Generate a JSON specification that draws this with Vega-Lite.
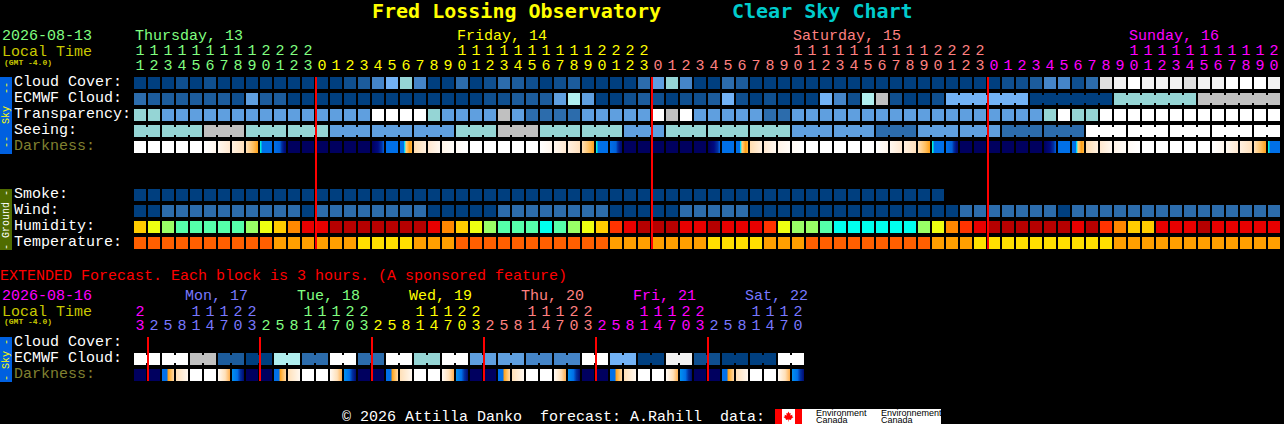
{"$schema":"https://vega.github.io/schema/vega-lite/v6.json","width":1284,"height":424,"autosize":"none","padding":0,"background":"#000000",
"config":{"view":{"stroke":null},"text":{"font":"Liberation Mono","fontSize":15}},
"datasets":{
"cells":[
{"row":"cloud","block":0,"tone":"a"},{"row":"cloud","block":1,"tone":"a"},{"row":"cloud","block":2,"tone":"a"},{"row":"cloud","block":3,"tone":"b"},{"row":"cloud","block":4,"tone":"a"},{"row":"cloud","block":5,"tone":"b"},{"row":"cloud","block":6,"tone":"a"},{"row":"cloud","block":7,"tone":"a"},{"row":"cloud","block":8,"tone":"a"},{"row":"cloud","block":9,"tone":"a"},{"row":"cloud","block":10,"tone":"a"},{"row":"cloud","block":11,"tone":"a"},{"row":"cloud","block":12,"tone":"a"},{"row":"cloud","block":13,"tone":"a"},{"row":"cloud","block":14,"tone":"a"},{"row":"cloud","block":15,"tone":"b"},{"row":"cloud","block":16,"tone":"c"},{"row":"cloud","block":17,"tone":"f"},{"row":"cloud","block":18,"tone":"h"},{"row":"cloud","block":19,"tone":"t"},{"row":"cloud","block":20,"tone":"f"},{"row":"cloud","block":21,"tone":"a"},{"row":"cloud","block":22,"tone":"a"},{"row":"cloud","block":23,"tone":"e"},{"row":"cloud","block":24,"tone":"a"},{"row":"cloud","block":25,"tone":"b"},{"row":"cloud","block":26,"tone":"e"},{"row":"cloud","block":27,"tone":"c"},{"row":"cloud","block":28,"tone":"b"},{"row":"cloud","block":29,"tone":"a"},{"row":"cloud","block":30,"tone":"b"},{"row":"cloud","block":31,"tone":"c"},{"row":"cloud","block":32,"tone":"a"},{"row":"cloud","block":33,"tone":"a"},{"row":"cloud","block":34,"tone":"a"},{"row":"cloud","block":35,"tone":"a"},{"row":"cloud","block":36,"tone":"e"},{"row":"cloud","block":37,"tone":"g"},{"row":"cloud","block":38,"tone":"t"},{"row":"cloud","block":39,"tone":"f"},{"row":"cloud","block":40,"tone":"a"},{"row":"cloud","block":41,"tone":"a"},{"row":"cloud","block":42,"tone":"e"},{"row":"cloud","block":43,"tone":"c"},{"row":"cloud","block":44,"tone":"a"},{"row":"cloud","block":45,"tone":"a"},{"row":"cloud","block":46,"tone":"a"},{"row":"cloud","block":47,"tone":"a"},{"row":"cloud","block":48,"tone":"a"},{"row":"cloud","block":49,"tone":"a"},{"row":"cloud","block":50,"tone":"a"},{"row":"cloud","block":51,"tone":"a"},{"row":"cloud","block":52,"tone":"a"},{"row":"cloud","block":53,"tone":"a"},{"row":"cloud","block":54,"tone":"a"},{"row":"cloud","block":55,"tone":"a"},{"row":"cloud","block":56,"tone":"a"},{"row":"cloud","block":57,"tone":"a"},{"row":"cloud","block":58,"tone":"a"},{"row":"cloud","block":59,"tone":"a"},{"row":"cloud","block":60,"tone":"a"},{"row":"cloud","block":61,"tone":"a"},{"row":"cloud","block":62,"tone":"b"},{"row":"cloud","block":63,"tone":"b"},{"row":"cloud","block":64,"tone":"c"},{"row":"cloud","block":65,"tone":"f"},{"row":"cloud","block":66,"tone":"f"},{"row":"cloud","block":67,"tone":"b"},{"row":"cloud","block":68,"tone":"e"},{"row":"cloud","block":69,"tone":"i"},{"row":"cloud","block":70,"tone":"j"},{"row":"cloud","block":71,"tone":"w"},{"row":"cloud","block":72,"tone":"j"},{"row":"cloud","block":73,"tone":"j"},{"row":"cloud","block":74,"tone":"j"},{"row":"cloud","block":75,"tone":"i"},{"row":"cloud","block":76,"tone":"j"},{"row":"cloud","block":77,"tone":"j"},{"row":"cloud","block":78,"tone":"w"},{"row":"cloud","block":79,"tone":"w"},{"row":"cloud","block":80,"tone":"w"},{"row":"cloud","block":81,"tone":"j"},
{"row":"ecmwf","block":0,"tone":"e"},{"row":"ecmwf","block":1,"tone":"c"},{"row":"ecmwf","block":2,"tone":"c"},{"row":"ecmwf","block":3,"tone":"c"},{"row":"ecmwf","block":4,"tone":"c"},{"row":"ecmwf","block":5,"tone":"c"},{"row":"ecmwf","block":6,"tone":"c"},{"row":"ecmwf","block":7,"tone":"b"},{"row":"ecmwf","block":8,"tone":"g"},{"row":"ecmwf","block":9,"tone":"c"},{"row":"ecmwf","block":10,"tone":"c"},{"row":"ecmwf","block":11,"tone":"a"},{"row":"ecmwf","block":12,"tone":"a"},{"row":"ecmwf","block":13,"tone":"a"},{"row":"ecmwf","block":14,"tone":"a"},{"row":"ecmwf","block":15,"tone":"a"},{"row":"ecmwf","block":16,"tone":"a"},{"row":"ecmwf","block":17,"tone":"a"},{"row":"ecmwf","block":18,"tone":"a"},{"row":"ecmwf","block":19,"tone":"a"},{"row":"ecmwf","block":20,"tone":"a"},{"row":"ecmwf","block":21,"tone":"a"},{"row":"ecmwf","block":22,"tone":"a"},{"row":"ecmwf","block":23,"tone":"a"},{"row":"ecmwf","block":24,"tone":"a"},{"row":"ecmwf","block":25,"tone":"b"},{"row":"ecmwf","block":26,"tone":"b"},{"row":"ecmwf","block":27,"tone":"c"},{"row":"ecmwf","block":28,"tone":"c"},{"row":"ecmwf","block":29,"tone":"c"},{"row":"ecmwf","block":30,"tone":"g"},{"row":"ecmwf","block":31,"tone":"u"},{"row":"ecmwf","block":32,"tone":"g"},{"row":"ecmwf","block":33,"tone":"a"},{"row":"ecmwf","block":34,"tone":"a"},{"row":"ecmwf","block":35,"tone":"b"},{"row":"ecmwf","block":36,"tone":"c"},{"row":"ecmwf","block":37,"tone":"b"},{"row":"ecmwf","block":38,"tone":"a"},{"row":"ecmwf","block":39,"tone":"b"},{"row":"ecmwf","block":40,"tone":"b"},{"row":"ecmwf","block":41,"tone":"c"},{"row":"ecmwf","block":42,"tone":"h"},{"row":"ecmwf","block":43,"tone":"b"},{"row":"ecmwf","block":44,"tone":"a"},{"row":"ecmwf","block":45,"tone":"b"},{"row":"ecmwf","block":46,"tone":"a"},{"row":"ecmwf","block":47,"tone":"a"},{"row":"ecmwf","block":48,"tone":"a"},{"row":"ecmwf","block":49,"tone":"h"},{"row":"ecmwf","block":50,"tone":"f"},{"row":"ecmwf","block":51,"tone":"b"},{"row":"ecmwf","block":52,"tone":"u"},{"row":"ecmwf","block":53,"tone":"s"},{"row":"ecmwf","block":54,"tone":"b"},{"row":"ecmwf","block":55,"tone":"a"},{"row":"ecmwf","block":56,"tone":"a"},{"row":"ecmwf","block":57,"tone":"b"},{"row":"ecmwf","block":58,"tone":"h","joined":true},{"row":"ecmwf","block":59,"tone":"h","joined":true},{"row":"ecmwf","block":60,"tone":"h","joined":true},{"row":"ecmwf","block":61,"tone":"h","joined":true},{"row":"ecmwf","block":62,"tone":"h","joined":true},{"row":"ecmwf","block":63,"tone":"h"},{"row":"ecmwf","block":64,"tone":"a","joined":true},{"row":"ecmwf","block":65,"tone":"a","joined":true},{"row":"ecmwf","block":66,"tone":"a","joined":true},{"row":"ecmwf","block":67,"tone":"a","joined":true},{"row":"ecmwf","block":68,"tone":"a","joined":true},{"row":"ecmwf","block":69,"tone":"a"},{"row":"ecmwf","block":70,"tone":"t","joined":true},{"row":"ecmwf","block":71,"tone":"t","joined":true},{"row":"ecmwf","block":72,"tone":"t","joined":true},{"row":"ecmwf","block":73,"tone":"t","joined":true},{"row":"ecmwf","block":74,"tone":"t","joined":true},{"row":"ecmwf","block":75,"tone":"t"},{"row":"ecmwf","block":76,"tone":"s","joined":true},{"row":"ecmwf","block":77,"tone":"s","joined":true},{"row":"ecmwf","block":78,"tone":"s","joined":true},{"row":"ecmwf","block":79,"tone":"s","joined":true},{"row":"ecmwf","block":80,"tone":"s","joined":true},{"row":"ecmwf","block":81,"tone":"s"},
{"row":"transp","block":0,"tone":"t"},{"row":"transp","block":1,"tone":"t"},{"row":"transp","block":2,"tone":"g"},{"row":"transp","block":3,"tone":"g"},{"row":"transp","block":4,"tone":"g"},{"row":"transp","block":5,"tone":"g"},{"row":"transp","block":6,"tone":"g"},{"row":"transp","block":7,"tone":"g"},{"row":"transp","block":8,"tone":"g"},{"row":"transp","block":9,"tone":"g"},{"row":"transp","block":10,"tone":"g"},{"row":"transp","block":11,"tone":"g"},{"row":"transp","block":12,"tone":"g"},{"row":"transp","block":13,"tone":"g"},{"row":"transp","block":14,"tone":"g"},{"row":"transp","block":15,"tone":"g"},{"row":"transp","block":16,"tone":"g"},{"row":"transp","block":17,"tone":"w"},{"row":"transp","block":18,"tone":"w"},{"row":"transp","block":19,"tone":"w"},{"row":"transp","block":20,"tone":"w"},{"row":"transp","block":21,"tone":"t"},{"row":"transp","block":22,"tone":"g"},{"row":"transp","block":23,"tone":"g"},{"row":"transp","block":24,"tone":"g"},{"row":"transp","block":25,"tone":"g"},{"row":"transp","block":26,"tone":"s"},{"row":"transp","block":27,"tone":"g"},{"row":"transp","block":28,"tone":"e"},{"row":"transp","block":29,"tone":"e"},{"row":"transp","block":30,"tone":"e"},{"row":"transp","block":31,"tone":"e"},{"row":"transp","block":32,"tone":"g"},{"row":"transp","block":33,"tone":"g"},{"row":"transp","block":34,"tone":"g"},{"row":"transp","block":35,"tone":"g"},{"row":"transp","block":36,"tone":"g"},{"row":"transp","block":37,"tone":"w"},{"row":"transp","block":38,"tone":"s"},{"row":"transp","block":39,"tone":"w"},{"row":"transp","block":40,"tone":"g"},{"row":"transp","block":41,"tone":"g"},{"row":"transp","block":42,"tone":"g"},{"row":"transp","block":43,"tone":"g"},{"row":"transp","block":44,"tone":"g"},{"row":"transp","block":45,"tone":"e"},{"row":"transp","block":46,"tone":"e"},{"row":"transp","block":47,"tone":"g"},{"row":"transp","block":48,"tone":"g"},{"row":"transp","block":49,"tone":"g"},{"row":"transp","block":50,"tone":"g"},{"row":"transp","block":51,"tone":"g"},{"row":"transp","block":52,"tone":"g"},{"row":"transp","block":53,"tone":"g"},{"row":"transp","block":54,"tone":"g"},{"row":"transp","block":55,"tone":"g"},{"row":"transp","block":56,"tone":"g"},{"row":"transp","block":57,"tone":"g"},{"row":"transp","block":58,"tone":"g"},{"row":"transp","block":59,"tone":"g"},{"row":"transp","block":60,"tone":"g"},{"row":"transp","block":61,"tone":"g"},{"row":"transp","block":62,"tone":"g"},{"row":"transp","block":63,"tone":"g"},{"row":"transp","block":64,"tone":"g"},{"row":"transp","block":65,"tone":"t"},{"row":"transp","block":66,"tone":"w"},{"row":"transp","block":67,"tone":"t"},{"row":"transp","block":68,"tone":"t"},{"row":"transp","block":69,"tone":"w"},{"row":"transp","block":70,"tone":"w"},{"row":"transp","block":71,"tone":"w"},{"row":"transp","block":72,"tone":"w"},{"row":"transp","block":73,"tone":"w"},{"row":"transp","block":74,"tone":"w"},{"row":"transp","block":75,"tone":"w"},{"row":"transp","block":76,"tone":"w"},{"row":"transp","block":77,"tone":"w"},{"row":"transp","block":78,"tone":"w"},{"row":"transp","block":79,"tone":"w"},{"row":"transp","block":80,"tone":"w"},{"row":"transp","block":81,"tone":"w"},
{"row":"seeing","block":0,"tone":"t","joined":true},{"row":"seeing","block":1,"tone":"t"},{"row":"seeing","block":2,"tone":"t","joined":true},{"row":"seeing","block":3,"tone":"t","joined":true},{"row":"seeing","block":4,"tone":"t"},{"row":"seeing","block":5,"tone":"s","joined":true},{"row":"seeing","block":6,"tone":"s","joined":true},{"row":"seeing","block":7,"tone":"s"},{"row":"seeing","block":8,"tone":"t","joined":true},{"row":"seeing","block":9,"tone":"t","joined":true},{"row":"seeing","block":10,"tone":"t"},{"row":"seeing","block":11,"tone":"t","joined":true},{"row":"seeing","block":12,"tone":"t","joined":true},{"row":"seeing","block":13,"tone":"t"},{"row":"seeing","block":14,"tone":"g","joined":true},{"row":"seeing","block":15,"tone":"g","joined":true},{"row":"seeing","block":16,"tone":"g"},{"row":"seeing","block":17,"tone":"g","joined":true},{"row":"seeing","block":18,"tone":"g","joined":true},{"row":"seeing","block":19,"tone":"g"},{"row":"seeing","block":20,"tone":"g","joined":true},{"row":"seeing","block":21,"tone":"g","joined":true},{"row":"seeing","block":22,"tone":"g"},{"row":"seeing","block":23,"tone":"t","joined":true},{"row":"seeing","block":24,"tone":"t","joined":true},{"row":"seeing","block":25,"tone":"t"},{"row":"seeing","block":26,"tone":"s","joined":true},{"row":"seeing","block":27,"tone":"s","joined":true},{"row":"seeing","block":28,"tone":"s"},{"row":"seeing","block":29,"tone":"t","joined":true},{"row":"seeing","block":30,"tone":"t","joined":true},{"row":"seeing","block":31,"tone":"t"},{"row":"seeing","block":32,"tone":"t","joined":true},{"row":"seeing","block":33,"tone":"t","joined":true},{"row":"seeing","block":34,"tone":"t"},{"row":"seeing","block":35,"tone":"g","joined":true},{"row":"seeing","block":36,"tone":"g","joined":true},{"row":"seeing","block":37,"tone":"g"},{"row":"seeing","block":38,"tone":"t","joined":true},{"row":"seeing","block":39,"tone":"t","joined":true},{"row":"seeing","block":40,"tone":"t"},{"row":"seeing","block":41,"tone":"t","joined":true},{"row":"seeing","block":42,"tone":"t","joined":true},{"row":"seeing","block":43,"tone":"t"},{"row":"seeing","block":44,"tone":"t","joined":true},{"row":"seeing","block":45,"tone":"t","joined":true},{"row":"seeing","block":46,"tone":"t"},{"row":"seeing","block":47,"tone":"g","joined":true},{"row":"seeing","block":48,"tone":"g","joined":true},{"row":"seeing","block":49,"tone":"g"},{"row":"seeing","block":50,"tone":"g","joined":true},{"row":"seeing","block":51,"tone":"g","joined":true},{"row":"seeing","block":52,"tone":"g"},{"row":"seeing","block":53,"tone":"e","joined":true},{"row":"seeing","block":54,"tone":"e","joined":true},{"row":"seeing","block":55,"tone":"e"},{"row":"seeing","block":56,"tone":"g","joined":true},{"row":"seeing","block":57,"tone":"g","joined":true},{"row":"seeing","block":58,"tone":"g"},{"row":"seeing","block":59,"tone":"g","joined":true},{"row":"seeing","block":60,"tone":"g","joined":true},{"row":"seeing","block":61,"tone":"g"},{"row":"seeing","block":62,"tone":"e","joined":true},{"row":"seeing","block":63,"tone":"e","joined":true},{"row":"seeing","block":64,"tone":"e"},{"row":"seeing","block":65,"tone":"e","joined":true},{"row":"seeing","block":66,"tone":"e","joined":true},{"row":"seeing","block":67,"tone":"e"},{"row":"seeing","block":68,"tone":"w","joined":true},{"row":"seeing","block":69,"tone":"w","joined":true},{"row":"seeing","block":70,"tone":"w"},{"row":"seeing","block":71,"tone":"w","joined":true},{"row":"seeing","block":72,"tone":"w","joined":true},{"row":"seeing","block":73,"tone":"w"},{"row":"seeing","block":74,"tone":"w","joined":true},{"row":"seeing","block":75,"tone":"w","joined":true},{"row":"seeing","block":76,"tone":"w"},{"row":"seeing","block":77,"tone":"w","joined":true},{"row":"seeing","block":78,"tone":"w","joined":true},{"row":"seeing","block":79,"tone":"w"},{"row":"seeing","block":80,"tone":"w","joined":true},{"row":"seeing","block":81,"tone":"w"},
{"row":"dark","block":0,"tone":"w"},{"row":"dark","block":1,"tone":"w"},{"row":"dark","block":2,"tone":"w"},{"row":"dark","block":3,"tone":"w"},{"row":"dark","block":4,"tone":"w"},{"row":"dark","block":5,"tone":"pm1"},{"row":"dark","block":6,"tone":"pm2"},{"row":"dark","block":7,"tone":"pm3"},{"row":"dark","block":8,"tone":"dusk"},{"row":"dark","block":9,"tone":"tw1"},{"row":"dark","block":10,"tone":"tw2"},{"row":"dark","block":11,"tone":"night"},{"row":"dark","block":12,"tone":"night"},{"row":"dark","block":13,"tone":"night"},{"row":"dark","block":14,"tone":"night"},{"row":"dark","block":15,"tone":"night"},{"row":"dark","block":16,"tone":"night"},{"row":"dark","block":17,"tone":"tw3"},{"row":"dark","block":18,"tone":"blue"},{"row":"dark","block":19,"tone":"dawn"},{"row":"dark","block":20,"tone":"am1"},{"row":"dark","block":21,"tone":"am2"},{"row":"dark","block":22,"tone":"am3"},{"row":"dark","block":23,"tone":"am4"},{"row":"dark","block":24,"tone":"w"},{"row":"dark","block":25,"tone":"w"},{"row":"dark","block":26,"tone":"w"},{"row":"dark","block":27,"tone":"w"},{"row":"dark","block":28,"tone":"w"},{"row":"dark","block":29,"tone":"pm1"},{"row":"dark","block":30,"tone":"pm2"},{"row":"dark","block":31,"tone":"pm3"},{"row":"dark","block":32,"tone":"dusk"},{"row":"dark","block":33,"tone":"tw1"},{"row":"dark","block":34,"tone":"tw2"},{"row":"dark","block":35,"tone":"night"},{"row":"dark","block":36,"tone":"night"},{"row":"dark","block":37,"tone":"night"},{"row":"dark","block":38,"tone":"night"},{"row":"dark","block":39,"tone":"night"},{"row":"dark","block":40,"tone":"night"},{"row":"dark","block":41,"tone":"tw3"},{"row":"dark","block":42,"tone":"blue"},{"row":"dark","block":43,"tone":"dawn"},{"row":"dark","block":44,"tone":"am1"},{"row":"dark","block":45,"tone":"am2"},{"row":"dark","block":46,"tone":"am3"},{"row":"dark","block":47,"tone":"am4"},{"row":"dark","block":48,"tone":"w"},{"row":"dark","block":49,"tone":"w"},{"row":"dark","block":50,"tone":"w"},{"row":"dark","block":51,"tone":"w"},{"row":"dark","block":52,"tone":"w"},{"row":"dark","block":53,"tone":"pm1"},{"row":"dark","block":54,"tone":"pm2"},{"row":"dark","block":55,"tone":"pm3"},{"row":"dark","block":56,"tone":"dusk"},{"row":"dark","block":57,"tone":"tw1"},{"row":"dark","block":58,"tone":"tw2"},{"row":"dark","block":59,"tone":"night"},{"row":"dark","block":60,"tone":"night"},{"row":"dark","block":61,"tone":"night"},{"row":"dark","block":62,"tone":"night"},{"row":"dark","block":63,"tone":"night"},{"row":"dark","block":64,"tone":"night"},{"row":"dark","block":65,"tone":"tw3"},{"row":"dark","block":66,"tone":"blue"},{"row":"dark","block":67,"tone":"dawn"},{"row":"dark","block":68,"tone":"am1"},{"row":"dark","block":69,"tone":"am2"},{"row":"dark","block":70,"tone":"am3"},{"row":"dark","block":71,"tone":"am4"},{"row":"dark","block":72,"tone":"w"},{"row":"dark","block":73,"tone":"w"},{"row":"dark","block":74,"tone":"w"},{"row":"dark","block":75,"tone":"w"},{"row":"dark","block":76,"tone":"w"},{"row":"dark","block":77,"tone":"pm1"},{"row":"dark","block":78,"tone":"pm2"},{"row":"dark","block":79,"tone":"pm3"},{"row":"dark","block":80,"tone":"dusk"},{"row":"dark","block":81,"tone":"tw1"},
{"row":"smoke","block":0,"tone":"a"},{"row":"smoke","block":1,"tone":"a"},{"row":"smoke","block":2,"tone":"a"},{"row":"smoke","block":3,"tone":"a"},{"row":"smoke","block":4,"tone":"a"},{"row":"smoke","block":5,"tone":"a"},{"row":"smoke","block":6,"tone":"a"},{"row":"smoke","block":7,"tone":"a"},{"row":"smoke","block":8,"tone":"a"},{"row":"smoke","block":9,"tone":"a"},{"row":"smoke","block":10,"tone":"a"},{"row":"smoke","block":11,"tone":"a"},{"row":"smoke","block":12,"tone":"a"},{"row":"smoke","block":13,"tone":"a"},{"row":"smoke","block":14,"tone":"a"},{"row":"smoke","block":15,"tone":"a"},{"row":"smoke","block":16,"tone":"a"},{"row":"smoke","block":17,"tone":"a"},{"row":"smoke","block":18,"tone":"a"},{"row":"smoke","block":19,"tone":"a"},{"row":"smoke","block":20,"tone":"a"},{"row":"smoke","block":21,"tone":"a"},{"row":"smoke","block":22,"tone":"a"},{"row":"smoke","block":23,"tone":"a"},{"row":"smoke","block":24,"tone":"a"},{"row":"smoke","block":25,"tone":"a"},{"row":"smoke","block":26,"tone":"a"},{"row":"smoke","block":27,"tone":"a"},{"row":"smoke","block":28,"tone":"a"},{"row":"smoke","block":29,"tone":"a"},{"row":"smoke","block":30,"tone":"a"},{"row":"smoke","block":31,"tone":"a"},{"row":"smoke","block":32,"tone":"a"},{"row":"smoke","block":33,"tone":"a"},{"row":"smoke","block":34,"tone":"a"},{"row":"smoke","block":35,"tone":"a"},{"row":"smoke","block":36,"tone":"a"},{"row":"smoke","block":37,"tone":"a"},{"row":"smoke","block":38,"tone":"a"},{"row":"smoke","block":39,"tone":"a"},{"row":"smoke","block":40,"tone":"a"},{"row":"smoke","block":41,"tone":"a"},{"row":"smoke","block":42,"tone":"a"},{"row":"smoke","block":43,"tone":"a"},{"row":"smoke","block":44,"tone":"a"},{"row":"smoke","block":45,"tone":"a"},{"row":"smoke","block":46,"tone":"a"},{"row":"smoke","block":47,"tone":"a"},{"row":"smoke","block":48,"tone":"a"},{"row":"smoke","block":49,"tone":"a"},{"row":"smoke","block":50,"tone":"a"},{"row":"smoke","block":51,"tone":"a"},{"row":"smoke","block":52,"tone":"a"},{"row":"smoke","block":53,"tone":"a"},{"row":"smoke","block":54,"tone":"a"},{"row":"smoke","block":55,"tone":"a"},{"row":"smoke","block":56,"tone":"a"},{"row":"smoke","block":57,"tone":"a"},
{"row":"wind","block":0,"tone":"a"},{"row":"wind","block":1,"tone":"a"},{"row":"wind","block":2,"tone":"e"},{"row":"wind","block":3,"tone":"e"},{"row":"wind","block":4,"tone":"e"},{"row":"wind","block":5,"tone":"e"},{"row":"wind","block":6,"tone":"e"},{"row":"wind","block":7,"tone":"e"},{"row":"wind","block":8,"tone":"e"},{"row":"wind","block":9,"tone":"e"},{"row":"wind","block":10,"tone":"e"},{"row":"wind","block":11,"tone":"e"},{"row":"wind","block":12,"tone":"a"},{"row":"wind","block":13,"tone":"e"},{"row":"wind","block":14,"tone":"e"},{"row":"wind","block":15,"tone":"e"},{"row":"wind","block":16,"tone":"e"},{"row":"wind","block":17,"tone":"e"},{"row":"wind","block":18,"tone":"e"},{"row":"wind","block":19,"tone":"e"},{"row":"wind","block":20,"tone":"e"},{"row":"wind","block":21,"tone":"a"},{"row":"wind","block":22,"tone":"a"},{"row":"wind","block":23,"tone":"a"},{"row":"wind","block":24,"tone":"a"},{"row":"wind","block":25,"tone":"a"},{"row":"wind","block":26,"tone":"e"},{"row":"wind","block":27,"tone":"e"},{"row":"wind","block":28,"tone":"e"},{"row":"wind","block":29,"tone":"e"},{"row":"wind","block":30,"tone":"e"},{"row":"wind","block":31,"tone":"e"},{"row":"wind","block":32,"tone":"e"},{"row":"wind","block":33,"tone":"e"},{"row":"wind","block":34,"tone":"a"},{"row":"wind","block":35,"tone":"a"},{"row":"wind","block":36,"tone":"a"},{"row":"wind","block":37,"tone":"a"},{"row":"wind","block":38,"tone":"a"},{"row":"wind","block":39,"tone":"e"},{"row":"wind","block":40,"tone":"e"},{"row":"wind","block":41,"tone":"e"},{"row":"wind","block":42,"tone":"e"},{"row":"wind","block":43,"tone":"e"},{"row":"wind","block":44,"tone":"a"},{"row":"wind","block":45,"tone":"a"},{"row":"wind","block":46,"tone":"a"},{"row":"wind","block":47,"tone":"a"},{"row":"wind","block":48,"tone":"a"},{"row":"wind","block":49,"tone":"a"},{"row":"wind","block":50,"tone":"a"},{"row":"wind","block":51,"tone":"a"},{"row":"wind","block":52,"tone":"a"},{"row":"wind","block":53,"tone":"a"},{"row":"wind","block":54,"tone":"a"},{"row":"wind","block":55,"tone":"a"},{"row":"wind","block":56,"tone":"a"},{"row":"wind","block":57,"tone":"a"},{"row":"wind","block":58,"tone":"a"},{"row":"wind","block":59,"tone":"e"},{"row":"wind","block":60,"tone":"e"},{"row":"wind","block":61,"tone":"e"},{"row":"wind","block":62,"tone":"e"},{"row":"wind","block":63,"tone":"e"},{"row":"wind","block":64,"tone":"e"},{"row":"wind","block":65,"tone":"e"},{"row":"wind","block":66,"tone":"a"},{"row":"wind","block":67,"tone":"e"},{"row":"wind","block":68,"tone":"e"},{"row":"wind","block":69,"tone":"e"},{"row":"wind","block":70,"tone":"e"},{"row":"wind","block":71,"tone":"e"},{"row":"wind","block":72,"tone":"e"},{"row":"wind","block":73,"tone":"e"},{"row":"wind","block":74,"tone":"e"},{"row":"wind","block":75,"tone":"e"},{"row":"wind","block":76,"tone":"e"},{"row":"wind","block":77,"tone":"e"},{"row":"wind","block":78,"tone":"e"},{"row":"wind","block":79,"tone":"e"},{"row":"wind","block":80,"tone":"e"},{"row":"wind","block":81,"tone":"e"},
{"row":"humid","block":0,"tone":"r4"},{"row":"humid","block":1,"tone":"r5"},{"row":"humid","block":2,"tone":"r6"},{"row":"humid","block":3,"tone":"r7"},{"row":"humid","block":4,"tone":"r7"},{"row":"humid","block":5,"tone":"r7"},{"row":"humid","block":6,"tone":"r7"},{"row":"humid","block":7,"tone":"r7"},{"row":"humid","block":8,"tone":"r6"},{"row":"humid","block":9,"tone":"r5"},{"row":"humid","block":10,"tone":"r4"},{"row":"humid","block":11,"tone":"r3"},{"row":"humid","block":12,"tone":"r1"},{"row":"humid","block":13,"tone":"r1"},{"row":"humid","block":14,"tone":"r0"},{"row":"humid","block":15,"tone":"r0"},{"row":"humid","block":16,"tone":"r0"},{"row":"humid","block":17,"tone":"r0"},{"row":"humid","block":18,"tone":"r0"},{"row":"humid","block":19,"tone":"r0"},{"row":"humid","block":20,"tone":"r0"},{"row":"humid","block":21,"tone":"r1"},{"row":"humid","block":22,"tone":"r3"},{"row":"humid","block":23,"tone":"r4"},{"row":"humid","block":24,"tone":"r5"},{"row":"humid","block":25,"tone":"r6"},{"row":"humid","block":26,"tone":"r7"},{"row":"humid","block":27,"tone":"r7"},{"row":"humid","block":28,"tone":"r7"},{"row":"humid","block":29,"tone":"r8"},{"row":"humid","block":30,"tone":"r7"},{"row":"humid","block":31,"tone":"r6"},{"row":"humid","block":32,"tone":"r5"},{"row":"humid","block":33,"tone":"r4"},{"row":"humid","block":34,"tone":"r2"},{"row":"humid","block":35,"tone":"r1"},{"row":"humid","block":36,"tone":"r0"},{"row":"humid","block":37,"tone":"r0"},{"row":"humid","block":38,"tone":"r0"},{"row":"humid","block":39,"tone":"r1"},{"row":"humid","block":40,"tone":"r1"},{"row":"humid","block":41,"tone":"r0"},{"row":"humid","block":42,"tone":"r1"},{"row":"humid","block":43,"tone":"r1"},{"row":"humid","block":44,"tone":"r1"},{"row":"humid","block":45,"tone":"r2"},{"row":"humid","block":46,"tone":"r5"},{"row":"humid","block":47,"tone":"r6"},{"row":"humid","block":48,"tone":"r6"},{"row":"humid","block":49,"tone":"r7"},{"row":"humid","block":50,"tone":"r8"},{"row":"humid","block":51,"tone":"r8"},{"row":"humid","block":52,"tone":"r8"},{"row":"humid","block":53,"tone":"r8"},{"row":"humid","block":54,"tone":"r8"},{"row":"humid","block":55,"tone":"r8"},{"row":"humid","block":56,"tone":"r6"},{"row":"humid","block":57,"tone":"r5"},{"row":"humid","block":58,"tone":"r3"},{"row":"humid","block":59,"tone":"r2"},{"row":"humid","block":60,"tone":"r1"},{"row":"humid","block":61,"tone":"r0"},{"row":"humid","block":62,"tone":"r0"},{"row":"humid","block":63,"tone":"r0"},{"row":"humid","block":64,"tone":"r0"},{"row":"humid","block":65,"tone":"r0"},{"row":"humid","block":66,"tone":"r0"},{"row":"humid","block":67,"tone":"r1"},{"row":"humid","block":68,"tone":"r0"},{"row":"humid","block":69,"tone":"r2"},{"row":"humid","block":70,"tone":"r3"},{"row":"humid","block":71,"tone":"r4"},{"row":"humid","block":72,"tone":"r4"},{"row":"humid","block":73,"tone":"r1"},{"row":"humid","block":74,"tone":"r1"},{"row":"humid","block":75,"tone":"r1"},{"row":"humid","block":76,"tone":"r0"},{"row":"humid","block":77,"tone":"r1"},{"row":"humid","block":78,"tone":"r1"},{"row":"humid","block":79,"tone":"r1"},{"row":"humid","block":80,"tone":"r1"},{"row":"humid","block":81,"tone":"r1"},
{"row":"temp","block":0,"tone":"o0"},{"row":"temp","block":1,"tone":"o0"},{"row":"temp","block":2,"tone":"o0"},{"row":"temp","block":3,"tone":"o0"},{"row":"temp","block":4,"tone":"o0"},{"row":"temp","block":5,"tone":"o0"},{"row":"temp","block":6,"tone":"o0"},{"row":"temp","block":7,"tone":"o0"},{"row":"temp","block":8,"tone":"o0"},{"row":"temp","block":9,"tone":"o0"},{"row":"temp","block":10,"tone":"o1"},{"row":"temp","block":11,"tone":"o1"},{"row":"temp","block":12,"tone":"o1"},{"row":"temp","block":13,"tone":"o1"},{"row":"temp","block":14,"tone":"o1"},{"row":"temp","block":15,"tone":"o1"},{"row":"temp","block":16,"tone":"o2"},{"row":"temp","block":17,"tone":"o2"},{"row":"temp","block":18,"tone":"o2"},{"row":"temp","block":19,"tone":"o2"},{"row":"temp","block":20,"tone":"o1"},{"row":"temp","block":21,"tone":"o1"},{"row":"temp","block":22,"tone":"o1"},{"row":"temp","block":23,"tone":"o0"},{"row":"temp","block":24,"tone":"o0"},{"row":"temp","block":25,"tone":"o0"},{"row":"temp","block":26,"tone":"o0"},{"row":"temp","block":27,"tone":"o0"},{"row":"temp","block":28,"tone":"o0"},{"row":"temp","block":29,"tone":"o0"},{"row":"temp","block":30,"tone":"o0"},{"row":"temp","block":31,"tone":"o0"},{"row":"temp","block":32,"tone":"o0"},{"row":"temp","block":33,"tone":"o0"},{"row":"temp","block":34,"tone":"o1"},{"row":"temp","block":35,"tone":"o1"},{"row":"temp","block":36,"tone":"o1"},{"row":"temp","block":37,"tone":"o1"},{"row":"temp","block":38,"tone":"o1"},{"row":"temp","block":39,"tone":"o1"},{"row":"temp","block":40,"tone":"o1"},{"row":"temp","block":41,"tone":"o2"},{"row":"temp","block":42,"tone":"o2"},{"row":"temp","block":43,"tone":"o2"},{"row":"temp","block":44,"tone":"o2"},{"row":"temp","block":45,"tone":"o1"},{"row":"temp","block":46,"tone":"o1"},{"row":"temp","block":47,"tone":"o1"},{"row":"temp","block":48,"tone":"o0"},{"row":"temp","block":49,"tone":"o0"},{"row":"temp","block":50,"tone":"o0"},{"row":"temp","block":51,"tone":"o0"},{"row":"temp","block":52,"tone":"o0"},{"row":"temp","block":53,"tone":"o0"},{"row":"temp","block":54,"tone":"o0"},{"row":"temp","block":55,"tone":"o0"},{"row":"temp","block":56,"tone":"o0"},{"row":"temp","block":57,"tone":"o1"},{"row":"temp","block":58,"tone":"o1"},{"row":"temp","block":59,"tone":"o1"},{"row":"temp","block":60,"tone":"o2"},{"row":"temp","block":61,"tone":"o2"},{"row":"temp","block":62,"tone":"o2"},{"row":"temp","block":63,"tone":"o2"},{"row":"temp","block":64,"tone":"o2"},{"row":"temp","block":65,"tone":"o2"},{"row":"temp","block":66,"tone":"o2"},{"row":"temp","block":67,"tone":"o2"},{"row":"temp","block":68,"tone":"o2"},{"row":"temp","block":69,"tone":"o2"},{"row":"temp","block":70,"tone":"o1"},{"row":"temp","block":71,"tone":"o1"},{"row":"temp","block":72,"tone":"o1"},{"row":"temp","block":73,"tone":"o1"},{"row":"temp","block":74,"tone":"o1"},{"row":"temp","block":75,"tone":"o1"},{"row":"temp","block":76,"tone":"o1"},{"row":"temp","block":77,"tone":"o1"},{"row":"temp","block":78,"tone":"o1"},{"row":"temp","block":79,"tone":"o1"},{"row":"temp","block":80,"tone":"o1"},{"row":"temp","block":81,"tone":"o1"}
],
"extCells":[
{"row":"ecmwf2","block":0,"tone":"w","joined":true},{"row":"ecmwf2","block":1,"tone":"w"},{"row":"ecmwf2","block":2,"tone":"w","joined":true},{"row":"ecmwf2","block":3,"tone":"w"},{"row":"ecmwf2","block":4,"tone":"s","joined":true},{"row":"ecmwf2","block":5,"tone":"s"},{"row":"ecmwf2","block":6,"tone":"c","joined":true},{"row":"ecmwf2","block":7,"tone":"c"},{"row":"ecmwf2","block":8,"tone":"a","joined":true},{"row":"ecmwf2","block":9,"tone":"a"},{"row":"ecmwf2","block":10,"tone":"u","joined":true},{"row":"ecmwf2","block":11,"tone":"u"},{"row":"ecmwf2","block":12,"tone":"e","joined":true},{"row":"ecmwf2","block":13,"tone":"e"},{"row":"ecmwf2","block":14,"tone":"w","joined":true},{"row":"ecmwf2","block":15,"tone":"w"},{"row":"ecmwf2","block":16,"tone":"e","joined":true},{"row":"ecmwf2","block":17,"tone":"e"},{"row":"ecmwf2","block":18,"tone":"w","joined":true},{"row":"ecmwf2","block":19,"tone":"w"},{"row":"ecmwf2","block":20,"tone":"t","joined":true},{"row":"ecmwf2","block":21,"tone":"t"},{"row":"ecmwf2","block":22,"tone":"w","joined":true},{"row":"ecmwf2","block":23,"tone":"w"},{"row":"ecmwf2","block":24,"tone":"g","joined":true},{"row":"ecmwf2","block":25,"tone":"g"},{"row":"ecmwf2","block":26,"tone":"g","joined":true},{"row":"ecmwf2","block":27,"tone":"g"},{"row":"ecmwf2","block":28,"tone":"f","joined":true},{"row":"ecmwf2","block":29,"tone":"f"},{"row":"ecmwf2","block":30,"tone":"f","joined":true},{"row":"ecmwf2","block":31,"tone":"f"},{"row":"ecmwf2","block":32,"tone":"w","joined":true},{"row":"ecmwf2","block":33,"tone":"w"},{"row":"ecmwf2","block":34,"tone":"h","joined":true},{"row":"ecmwf2","block":35,"tone":"h"},{"row":"ecmwf2","block":36,"tone":"a","joined":true},{"row":"ecmwf2","block":37,"tone":"a"},{"row":"ecmwf2","block":38,"tone":"j","joined":true},{"row":"ecmwf2","block":39,"tone":"j"},{"row":"ecmwf2","block":40,"tone":"b","joined":true},{"row":"ecmwf2","block":41,"tone":"b"},{"row":"ecmwf2","block":42,"tone":"a","joined":true},{"row":"ecmwf2","block":43,"tone":"a"},{"row":"ecmwf2","block":44,"tone":"a","joined":true},{"row":"ecmwf2","block":45,"tone":"a"},{"row":"ecmwf2","block":46,"tone":"w","joined":true},{"row":"ecmwf2","block":47,"tone":"w"},
{"row":"dark2","block":0,"tone":"night"},{"row":"dark2","block":1,"tone":"night"},{"row":"dark2","block":2,"tone":"xdawn"},{"row":"dark2","block":3,"tone":"xam"},{"row":"dark2","block":4,"tone":"w"},{"row":"dark2","block":5,"tone":"w"},{"row":"dark2","block":6,"tone":"xpm"},{"row":"dark2","block":7,"tone":"xdusk"},{"row":"dark2","block":8,"tone":"night"},{"row":"dark2","block":9,"tone":"night"},{"row":"dark2","block":10,"tone":"xdawn"},{"row":"dark2","block":11,"tone":"xam"},{"row":"dark2","block":12,"tone":"w"},{"row":"dark2","block":13,"tone":"w"},{"row":"dark2","block":14,"tone":"xpm"},{"row":"dark2","block":15,"tone":"xdusk"},{"row":"dark2","block":16,"tone":"night"},{"row":"dark2","block":17,"tone":"night"},{"row":"dark2","block":18,"tone":"xdawn"},{"row":"dark2","block":19,"tone":"xam"},{"row":"dark2","block":20,"tone":"w"},{"row":"dark2","block":21,"tone":"w"},{"row":"dark2","block":22,"tone":"xpm"},{"row":"dark2","block":23,"tone":"xdusk"},{"row":"dark2","block":24,"tone":"night"},{"row":"dark2","block":25,"tone":"night"},{"row":"dark2","block":26,"tone":"xdawn"},{"row":"dark2","block":27,"tone":"xam"},{"row":"dark2","block":28,"tone":"w"},{"row":"dark2","block":29,"tone":"w"},{"row":"dark2","block":30,"tone":"xpm"},{"row":"dark2","block":31,"tone":"xdusk"},{"row":"dark2","block":32,"tone":"night"},{"row":"dark2","block":33,"tone":"night"},{"row":"dark2","block":34,"tone":"xdawn"},{"row":"dark2","block":35,"tone":"xam"},{"row":"dark2","block":36,"tone":"w"},{"row":"dark2","block":37,"tone":"w"},{"row":"dark2","block":38,"tone":"xpm"},{"row":"dark2","block":39,"tone":"xdusk"},{"row":"dark2","block":40,"tone":"night"},{"row":"dark2","block":41,"tone":"night"},{"row":"dark2","block":42,"tone":"xdawn"},{"row":"dark2","block":43,"tone":"xam"},{"row":"dark2","block":44,"tone":"w"},{"row":"dark2","block":45,"tone":"w"},{"row":"dark2","block":46,"tone":"xpm"},{"row":"dark2","block":47,"tone":"xdusk"}
],
"digits":[
{"block":0,"row":"ones","digit":"1","day":"Thu"},{"block":1,"row":"ones","digit":"2","day":"Thu"},{"block":2,"row":"ones","digit":"3","day":"Thu"},{"block":3,"row":"ones","digit":"4","day":"Thu"},{"block":4,"row":"ones","digit":"5","day":"Thu"},{"block":5,"row":"ones","digit":"6","day":"Thu"},{"block":6,"row":"ones","digit":"7","day":"Thu"},{"block":7,"row":"ones","digit":"8","day":"Thu"},{"block":8,"row":"ones","digit":"9","day":"Thu"},{"block":9,"row":"ones","digit":"0","day":"Thu"},{"block":10,"row":"ones","digit":"1","day":"Thu"},{"block":11,"row":"ones","digit":"2","day":"Thu"},{"block":12,"row":"ones","digit":"3","day":"Thu"},
{"block":13,"row":"ones","digit":"0","day":"Fri"},{"block":14,"row":"ones","digit":"1","day":"Fri"},{"block":15,"row":"ones","digit":"2","day":"Fri"},{"block":16,"row":"ones","digit":"3","day":"Fri"},{"block":17,"row":"ones","digit":"4","day":"Fri"},{"block":18,"row":"ones","digit":"5","day":"Fri"},{"block":19,"row":"ones","digit":"6","day":"Fri"},{"block":20,"row":"ones","digit":"7","day":"Fri"},{"block":21,"row":"ones","digit":"8","day":"Fri"},{"block":22,"row":"ones","digit":"9","day":"Fri"},{"block":23,"row":"ones","digit":"0","day":"Fri"},{"block":24,"row":"ones","digit":"1","day":"Fri"},{"block":25,"row":"ones","digit":"2","day":"Fri"},{"block":26,"row":"ones","digit":"3","day":"Fri"},{"block":27,"row":"ones","digit":"4","day":"Fri"},{"block":28,"row":"ones","digit":"5","day":"Fri"},{"block":29,"row":"ones","digit":"6","day":"Fri"},{"block":30,"row":"ones","digit":"7","day":"Fri"},{"block":31,"row":"ones","digit":"8","day":"Fri"},{"block":32,"row":"ones","digit":"9","day":"Fri"},{"block":33,"row":"ones","digit":"0","day":"Fri"},{"block":34,"row":"ones","digit":"1","day":"Fri"},{"block":35,"row":"ones","digit":"2","day":"Fri"},{"block":36,"row":"ones","digit":"3","day":"Fri"},
{"block":37,"row":"ones","digit":"0","day":"Sat"},{"block":38,"row":"ones","digit":"1","day":"Sat"},{"block":39,"row":"ones","digit":"2","day":"Sat"},{"block":40,"row":"ones","digit":"3","day":"Sat"},{"block":41,"row":"ones","digit":"4","day":"Sat"},{"block":42,"row":"ones","digit":"5","day":"Sat"},{"block":43,"row":"ones","digit":"6","day":"Sat"},{"block":44,"row":"ones","digit":"7","day":"Sat"},{"block":45,"row":"ones","digit":"8","day":"Sat"},{"block":46,"row":"ones","digit":"9","day":"Sat"},{"block":47,"row":"ones","digit":"0","day":"Sat"},{"block":48,"row":"ones","digit":"1","day":"Sat"},{"block":49,"row":"ones","digit":"2","day":"Sat"},{"block":50,"row":"ones","digit":"3","day":"Sat"},{"block":51,"row":"ones","digit":"4","day":"Sat"},{"block":52,"row":"ones","digit":"5","day":"Sat"},{"block":53,"row":"ones","digit":"6","day":"Sat"},{"block":54,"row":"ones","digit":"7","day":"Sat"},{"block":55,"row":"ones","digit":"8","day":"Sat"},{"block":56,"row":"ones","digit":"9","day":"Sat"},{"block":57,"row":"ones","digit":"0","day":"Sat"},{"block":58,"row":"ones","digit":"1","day":"Sat"},{"block":59,"row":"ones","digit":"2","day":"Sat"},{"block":60,"row":"ones","digit":"3","day":"Sat"},
{"block":61,"row":"ones","digit":"0","day":"Sun"},{"block":62,"row":"ones","digit":"1","day":"Sun"},{"block":63,"row":"ones","digit":"2","day":"Sun"},{"block":64,"row":"ones","digit":"3","day":"Sun"},{"block":65,"row":"ones","digit":"4","day":"Sun"},{"block":66,"row":"ones","digit":"5","day":"Sun"},{"block":67,"row":"ones","digit":"6","day":"Sun"},{"block":68,"row":"ones","digit":"7","day":"Sun"},{"block":69,"row":"ones","digit":"8","day":"Sun"},{"block":70,"row":"ones","digit":"9","day":"Sun"},{"block":71,"row":"ones","digit":"0","day":"Sun"},{"block":72,"row":"ones","digit":"1","day":"Sun"},{"block":73,"row":"ones","digit":"2","day":"Sun"},{"block":74,"row":"ones","digit":"3","day":"Sun"},{"block":75,"row":"ones","digit":"4","day":"Sun"},{"block":76,"row":"ones","digit":"5","day":"Sun"},{"block":77,"row":"ones","digit":"6","day":"Sun"},{"block":78,"row":"ones","digit":"7","day":"Sun"},{"block":79,"row":"ones","digit":"8","day":"Sun"},{"block":80,"row":"ones","digit":"9","day":"Sun"},{"block":81,"row":"ones","digit":"0","day":"Sun"},
{"block":0,"row":"tens","digit":"1","day":"Thu"},{"block":1,"row":"tens","digit":"1","day":"Thu"},{"block":2,"row":"tens","digit":"1","day":"Thu"},{"block":3,"row":"tens","digit":"1","day":"Thu"},{"block":4,"row":"tens","digit":"1","day":"Thu"},{"block":5,"row":"tens","digit":"1","day":"Thu"},{"block":6,"row":"tens","digit":"1","day":"Thu"},{"block":7,"row":"tens","digit":"1","day":"Thu"},{"block":8,"row":"tens","digit":"1","day":"Thu"},{"block":9,"row":"tens","digit":"2","day":"Thu"},{"block":10,"row":"tens","digit":"2","day":"Thu"},{"block":11,"row":"tens","digit":"2","day":"Thu"},{"block":12,"row":"tens","digit":"2","day":"Thu"},
{"block":23,"row":"tens","digit":"1","day":"Fri"},{"block":24,"row":"tens","digit":"1","day":"Fri"},{"block":25,"row":"tens","digit":"1","day":"Fri"},{"block":26,"row":"tens","digit":"1","day":"Fri"},{"block":27,"row":"tens","digit":"1","day":"Fri"},{"block":28,"row":"tens","digit":"1","day":"Fri"},{"block":29,"row":"tens","digit":"1","day":"Fri"},{"block":30,"row":"tens","digit":"1","day":"Fri"},{"block":31,"row":"tens","digit":"1","day":"Fri"},{"block":32,"row":"tens","digit":"1","day":"Fri"},{"block":33,"row":"tens","digit":"2","day":"Fri"},{"block":34,"row":"tens","digit":"2","day":"Fri"},{"block":35,"row":"tens","digit":"2","day":"Fri"},{"block":36,"row":"tens","digit":"2","day":"Fri"},
{"block":47,"row":"tens","digit":"1","day":"Sat"},{"block":48,"row":"tens","digit":"1","day":"Sat"},{"block":49,"row":"tens","digit":"1","day":"Sat"},{"block":50,"row":"tens","digit":"1","day":"Sat"},{"block":51,"row":"tens","digit":"1","day":"Sat"},{"block":52,"row":"tens","digit":"1","day":"Sat"},{"block":53,"row":"tens","digit":"1","day":"Sat"},{"block":54,"row":"tens","digit":"1","day":"Sat"},{"block":55,"row":"tens","digit":"1","day":"Sat"},{"block":56,"row":"tens","digit":"1","day":"Sat"},{"block":57,"row":"tens","digit":"2","day":"Sat"},{"block":58,"row":"tens","digit":"2","day":"Sat"},{"block":59,"row":"tens","digit":"2","day":"Sat"},{"block":60,"row":"tens","digit":"2","day":"Sat"},
{"block":71,"row":"tens","digit":"1","day":"Sun"},{"block":72,"row":"tens","digit":"1","day":"Sun"},{"block":73,"row":"tens","digit":"1","day":"Sun"},{"block":74,"row":"tens","digit":"1","day":"Sun"},{"block":75,"row":"tens","digit":"1","day":"Sun"},{"block":76,"row":"tens","digit":"1","day":"Sun"},{"block":77,"row":"tens","digit":"1","day":"Sun"},{"block":78,"row":"tens","digit":"1","day":"Sun"},{"block":79,"row":"tens","digit":"1","day":"Sun"},{"block":80,"row":"tens","digit":"1","day":"Sun"},{"block":81,"row":"tens","digit":"2","day":"Sun"}
],
"extDigits":[
{"block":0,"row":"ones2","digit":"3","day":"Sun"},{"block":1,"row":"ones2","digit":"2","day":"Mon"},{"block":2,"row":"ones2","digit":"5","day":"Mon"},{"block":3,"row":"ones2","digit":"8","day":"Mon"},{"block":4,"row":"ones2","digit":"1","day":"Mon"},{"block":5,"row":"ones2","digit":"4","day":"Mon"},{"block":6,"row":"ones2","digit":"7","day":"Mon"},{"block":7,"row":"ones2","digit":"0","day":"Mon"},{"block":8,"row":"ones2","digit":"3","day":"Mon"},{"block":9,"row":"ones2","digit":"2","day":"Tue"},{"block":10,"row":"ones2","digit":"5","day":"Tue"},{"block":11,"row":"ones2","digit":"8","day":"Tue"},{"block":12,"row":"ones2","digit":"1","day":"Tue"},{"block":13,"row":"ones2","digit":"4","day":"Tue"},{"block":14,"row":"ones2","digit":"7","day":"Tue"},{"block":15,"row":"ones2","digit":"0","day":"Tue"},{"block":16,"row":"ones2","digit":"3","day":"Tue"},{"block":17,"row":"ones2","digit":"2","day":"Wed"},{"block":18,"row":"ones2","digit":"5","day":"Wed"},{"block":19,"row":"ones2","digit":"8","day":"Wed"},{"block":20,"row":"ones2","digit":"1","day":"Wed"},{"block":21,"row":"ones2","digit":"4","day":"Wed"},{"block":22,"row":"ones2","digit":"7","day":"Wed"},{"block":23,"row":"ones2","digit":"0","day":"Wed"},{"block":24,"row":"ones2","digit":"3","day":"Wed"},{"block":25,"row":"ones2","digit":"2","day":"Sat"},{"block":26,"row":"ones2","digit":"5","day":"Sat"},{"block":27,"row":"ones2","digit":"8","day":"Sat"},{"block":28,"row":"ones2","digit":"1","day":"Sat"},{"block":29,"row":"ones2","digit":"4","day":"Sat"},{"block":30,"row":"ones2","digit":"7","day":"Sat"},{"block":31,"row":"ones2","digit":"0","day":"Sat"},{"block":32,"row":"ones2","digit":"3","day":"Sat"},{"block":33,"row":"ones2","digit":"2","day":"Sun"},{"block":34,"row":"ones2","digit":"5","day":"Sun"},{"block":35,"row":"ones2","digit":"8","day":"Sun"},{"block":36,"row":"ones2","digit":"1","day":"Sun"},{"block":37,"row":"ones2","digit":"4","day":"Sun"},{"block":38,"row":"ones2","digit":"7","day":"Sun"},{"block":39,"row":"ones2","digit":"0","day":"Sun"},{"block":40,"row":"ones2","digit":"3","day":"Sun"},{"block":41,"row":"ones2","digit":"2","day":"Mon"},{"block":42,"row":"ones2","digit":"5","day":"Mon"},{"block":43,"row":"ones2","digit":"8","day":"Mon"},{"block":44,"row":"ones2","digit":"1","day":"Mon"},{"block":45,"row":"ones2","digit":"4","day":"Mon"},{"block":46,"row":"ones2","digit":"7","day":"Mon"},{"block":47,"row":"ones2","digit":"0","day":"Mon"},
{"block":0,"row":"tens2","digit":"2","day":"Sun"},{"block":4,"row":"tens2","digit":"1","day":"Mon"},{"block":5,"row":"tens2","digit":"1","day":"Mon"},{"block":6,"row":"tens2","digit":"1","day":"Mon"},{"block":7,"row":"tens2","digit":"2","day":"Mon"},{"block":8,"row":"tens2","digit":"2","day":"Mon"},{"block":12,"row":"tens2","digit":"1","day":"Tue"},{"block":13,"row":"tens2","digit":"1","day":"Tue"},{"block":14,"row":"tens2","digit":"1","day":"Tue"},{"block":15,"row":"tens2","digit":"2","day":"Tue"},{"block":16,"row":"tens2","digit":"2","day":"Tue"},{"block":20,"row":"tens2","digit":"1","day":"Wed"},{"block":21,"row":"tens2","digit":"1","day":"Wed"},{"block":22,"row":"tens2","digit":"1","day":"Wed"},{"block":23,"row":"tens2","digit":"2","day":"Wed"},{"block":24,"row":"tens2","digit":"2","day":"Wed"},{"block":28,"row":"tens2","digit":"1","day":"Sat"},{"block":29,"row":"tens2","digit":"1","day":"Sat"},{"block":30,"row":"tens2","digit":"1","day":"Sat"},{"block":31,"row":"tens2","digit":"2","day":"Sat"},{"block":32,"row":"tens2","digit":"2","day":"Sat"},{"block":36,"row":"tens2","digit":"1","day":"Sun"},{"block":37,"row":"tens2","digit":"1","day":"Sun"},{"block":38,"row":"tens2","digit":"1","day":"Sun"},{"block":39,"row":"tens2","digit":"2","day":"Sun"},{"block":40,"row":"tens2","digit":"2","day":"Sun"},{"block":44,"row":"tens2","digit":"1","day":"Mon"},{"block":45,"row":"tens2","digit":"1","day":"Mon"},{"block":46,"row":"tens2","digit":"1","day":"Mon"},{"block":47,"row":"tens2","digit":"2","day":"Mon"}
]
},
"resolve":{"scale":{"x":"independent"}},
"layer":[
{"encoding":{
"x":{"field":"block","type":"ordinal","axis":null,"scale":{"type":"band","domain":[0,1,2,3,4,5,6,7,8,9,10,11,12,13,14,15,16,17,18,19,20,21,22,23,24,25,26,27,28,29,30,31,32,33,34,35,36,37,38,39,40,41,42,43,44,45,46,47,48,49,50,51,52,53,54,55,56,57,58,59,60,61,62,63,64,65,66,67,68,69,70,71,72,73,74,75,76,77,78,79,80,81],"range":[134,1280],"paddingInner":0.142857,"paddingOuter":0}},
"y":{"field":"row","type":"nominal","axis":null,"scale":{"type":"band","domain":["title","s1","date","tens","ones","cloud","ecmwf","transp","seeing","dark","s2","s3","smoke","wind","humid","temp","s4","note","date2","tens2","ones2","cloud2","ecmwf2","dark2","s5","s6","footer"],"range":[-3,425],"paddingInner":0.25,"paddingOuter":0}}
},
"layer":[
{"data":{"name":"cells"},"mark":"rect","encoding":{"fill":{"condition":[
{"test":"datum.tone == 'pm1'","value":{"gradient":"linear","x1":0,"y1":0,"x2":1,"y2":0,"stops":[{"offset":0,"color":"#FFFFFF"},{"offset":1,"color":"#FFF6EC"}]}},
{"test":"datum.tone == 'pm2'","value":{"gradient":"linear","x1":0,"y1":0,"x2":1,"y2":0,"stops":[{"offset":0,"color":"#FFF8F0"},{"offset":1,"color":"#FFE8D0"}]}},
{"test":"datum.tone == 'pm3'","value":{"gradient":"linear","x1":0,"y1":0,"x2":1,"y2":0,"stops":[{"offset":0,"color":"#FFF0E0"},{"offset":1,"color":"#FFE0BC"}]}},
{"test":"datum.tone == 'dusk'","value":{"gradient":"linear","x1":0,"y1":0,"x2":1,"y2":0,"stops":[{"offset":0,"color":"#FFE0B8"},{"offset":0.6,"color":"#FFC060"},{"offset":1,"color":"#FFA018"}]}},
{"test":"datum.tone == 'tw1'","value":{"gradient":"linear","x1":0,"y1":0,"x2":1,"y2":0,"stops":[{"offset":0,"color":"#00F0E0"},{"offset":0.08,"color":"#00F0E0"},{"offset":0.17,"color":"#0070E8"},{"offset":1,"color":"#0070E8"}]}},
{"test":"datum.tone == 'tw2'","value":{"gradient":"linear","x1":0,"y1":0,"x2":1,"y2":0,"stops":[{"offset":0,"color":"#0070E8"},{"offset":0.5,"color":"#0060D8"},{"offset":0.65,"color":"#0030A0"},{"offset":0.85,"color":"#00107F"},{"offset":1,"color":"#000A70"}]}},
{"test":"datum.tone == 'tw3'","value":{"gradient":"linear","x1":0,"y1":0,"x2":1,"y2":0,"stops":[{"offset":0,"color":"#00005F"},{"offset":0.5,"color":"#000A80"},{"offset":0.8,"color":"#0030A0"},{"offset":1,"color":"#0060E0"}]}},
{"test":"datum.tone == 'dawn'","value":{"gradient":"linear","x1":0,"y1":0,"x2":1,"y2":0,"stops":[{"offset":0,"color":"#0070E8"},{"offset":0.3,"color":"#0070E8"},{"offset":0.38,"color":"#00E0FF"},{"offset":0.5,"color":"#FFD080"},{"offset":0.8,"color":"#FFA018"},{"offset":1,"color":"#FFB840"}]}},
{"test":"datum.tone == 'am1'","value":{"gradient":"linear","x1":0,"y1":0,"x2":1,"y2":0,"stops":[{"offset":0,"color":"#FFDDB0"},{"offset":1,"color":"#FFF0E0"}]}},
{"test":"datum.tone == 'am2'","value":{"gradient":"linear","x1":0,"y1":0,"x2":1,"y2":0,"stops":[{"offset":0,"color":"#FFE8D0"},{"offset":1,"color":"#FFF8F0"}]}},
{"test":"datum.tone == 'am3'","value":{"gradient":"linear","x1":0,"y1":0,"x2":1,"y2":0,"stops":[{"offset":0,"color":"#FFF4E8"},{"offset":1,"color":"#FFFCF8"}]}},
{"test":"datum.tone == 'am4'","value":{"gradient":"linear","x1":0,"y1":0,"x2":1,"y2":0,"stops":[{"offset":0,"color":"#FFFAF5"},{"offset":1,"color":"#FFFFFF"}]}}
],"field":"tone","type":"nominal","legend":null,"scale":{"domain":["a","b","c","e","f","g","h","t","u","s","i","j","w","r0","r1","r2","r3","r4","r5","r6","r7","r8","o0","o1","o2","night","blue"],"range":["#003F7F","#0F4F8F","#1C5C9C","#2C6CAC","#4585C8","#5F9FDF","#72B2F5","#95D5D5","#B0EEEE","#C0C0C0","#E0E0E0","#F2F2F2","#FFFFFF","#B60000","#E80000","#FF3300","#FF8800","#FFCC00","#EEFF11","#99FF66","#55FFAA","#00FFEE","#FF5F00","#FF9F00","#FFDF00","#00005F","#0070E8"]}}}},
{"data":{"name":"cells"},"transform":[{"filter":"datum.joined"}],"mark":{"type":"rect","width":2,"height":8,"xOffset":7},"encoding":{"fill":{"field":"tone","type":"nominal","legend":null}}},
{"data":{"name":"extCells"},"mark":{"type":"rect","yOffset":4},"encoding":{"fill":{"condition":[
{"test":"datum.tone == 'xdawn'","value":{"gradient":"linear","x1":0,"y1":0,"x2":1,"y2":0,"stops":[{"offset":0,"color":"#0070E8"},{"offset":0.42,"color":"#0070E8"},{"offset":0.5,"color":"#FFA018"},{"offset":0.75,"color":"#FFC060"},{"offset":1,"color":"#FFD8A8"}]}},
{"test":"datum.tone == 'xam'","value":{"gradient":"linear","x1":0,"y1":0,"x2":1,"y2":0,"stops":[{"offset":0,"color":"#FFE0B8"},{"offset":1,"color":"#FFF8F0"}]}},
{"test":"datum.tone == 'xpm'","value":{"gradient":"linear","x1":0,"y1":0,"x2":1,"y2":0,"stops":[{"offset":0,"color":"#FFFAF5"},{"offset":0.6,"color":"#FFE0B8"},{"offset":1,"color":"#FFB050"}]}},
{"test":"datum.tone == 'xdusk'","value":{"gradient":"linear","x1":0,"y1":0,"x2":1,"y2":0,"stops":[{"offset":0,"color":"#0090F0"},{"offset":0.45,"color":"#0070E8"},{"offset":0.7,"color":"#0030A0"},{"offset":1,"color":"#000A70"}]}}
],"field":"tone","type":"nominal","legend":null}}},
{"data":{"name":"extCells"},"transform":[{"filter":"datum.joined"}],"mark":{"type":"rect","width":2,"height":8,"xOffset":7,"yOffset":4},"encoding":{"fill":{"field":"tone","type":"nominal","legend":null}}},
{"data":{"values":[{"block":13,"row":"cloud","end":"temp"},{"block":37,"row":"cloud","end":"temp"},{"block":61,"row":"cloud","end":"temp"}]},"mark":{"type":"rule","color":"#FF0000","strokeWidth":2,"yOffset":-6,"y2Offset":6},"encoding":{"x":{"field":"block","type":"ordinal","bandPosition":0},"y2":{"field":"end"}}},
{"data":{"values":[{"block":1,"row":"cloud2","end":"dark2"},{"block":9,"row":"cloud2","end":"dark2"},{"block":17,"row":"cloud2","end":"dark2"},{"block":25,"row":"cloud2","end":"dark2"},{"block":33,"row":"cloud2","end":"dark2"},{"block":41,"row":"cloud2","end":"dark2"}]},"mark":{"type":"rule","color":"#FF0000","strokeWidth":2,"yOffset":-2,"y2Offset":10},"encoding":{"x":{"field":"block","type":"ordinal","bandPosition":0},"y2":{"field":"end"}}},
{"data":{"values":[{"block":17,"row":"title","text":"Fred Lossing Observatory"}]},"mark":{"type":"text","align":"left","font":"DejaVu Sans Mono","fontWeight":"bold","fontSize":20,"color":"#FFFF00","xOffset":-6,"yOffset":9},"encoding":{"text":{"field":"text"}}},
{"data":{"values":[{"block":42,"row":"title","text":"Clear Sky Chart"}]},"mark":{"type":"text","align":"left","font":"DejaVu Sans Mono","fontWeight":"bold","fontSize":20,"color":"#00CCCC","xOffset":4,"yOffset":9},"encoding":{"text":{"field":"text"}}},
{"data":{"values":[{"block":0,"row":"date","text":"Thursday, 13","day":"Thu"},{"block":23,"row":"date","text":"Friday, 14","day":"Fri"},{"block":47,"row":"date","text":"Saturday, 15","day":"Sat"},{"block":71,"row":"date","text":"Sunday, 16","day":"Sun"}]},"mark":{"type":"text","align":"left","xOffset":-5,"yOffset":-0.5},"encoding":{"text":{"field":"text"},"color":{"field":"day","type":"nominal","legend":null,"scale":{"domain":["Thu","Fri","Sat","Sun","Mon","Tue","Wed","white","dim","local","alert"],"range":["#80FF80","#FFFF00","#FF8080","#FF00FF","#7878FF","#80FF80","#FFFF00","#FFFFFF","#808030","#C8C800","#FF0000"]}}}},
{"data":{"values":[{"block":4,"row":"date2","text":"Mon, 17","day":"Mon"},{"block":12,"row":"date2","text":"Tue, 18","day":"Tue"},{"block":20,"row":"date2","text":"Wed, 19","day":"Wed"},{"block":28,"row":"date2","text":"Thu, 20","day":"Sat"},{"block":36,"row":"date2","text":"Fri, 21","day":"Sun"},{"block":44,"row":"date2","text":"Sat, 22","day":"Mon"}]},"mark":{"type":"text","align":"left","xOffset":-11,"yOffset":3.5},"encoding":{"text":{"field":"text"},"color":{"field":"day","type":"nominal","legend":null}}},
{"data":{"name":"digits"},"transform":[{"filter":"datum.row == 'tens'"}],"mark":{"type":"text","yOffset":-1},"encoding":{"text":{"field":"digit"},"color":{"field":"day","type":"nominal","legend":null}}},
{"data":{"name":"digits"},"transform":[{"filter":"datum.row == 'ones'"}],"mark":{"type":"text","yOffset":-2},"encoding":{"text":{"field":"digit"},"color":{"field":"day","type":"nominal","legend":null}}},
{"data":{"name":"extDigits"},"transform":[{"filter":"datum.row == 'tens2'"}],"mark":{"type":"text","yOffset":4},"encoding":{"text":{"field":"digit"},"color":{"field":"day","type":"nominal","legend":null}}},
{"data":{"name":"extDigits"},"transform":[{"filter":"datum.row == 'ones2'"}],"mark":{"type":"text","yOffset":2},"encoding":{"text":{"field":"digit"},"color":{"field":"day","type":"nominal","legend":null}}},
{"data":{"values":[{"block":14,"row":"footer","text":"© 2026 Attilla Danko\u00a0\u00a0forecast: A.Rahill\u00a0\u00a0data:"}]},"mark":{"type":"text","align":"left","color":"#FFFFFF","xOffset":6,"yOffset":-3},"encoding":{"text":{"field":"text"}}},
{"data":{"values":[{"block":53,"row":"footer"}]},"mark":{"type":"rect","color":"#FFFFFF","width":139,"height":15,"xOffset":-10.5,"yOffset":-2.5},"encoding":{}},
{"data":{"values":[{"block":46,"row":"footer"}]},"mark":{"type":"rect","color":"#FFFFFF","width":13,"height":15,"xOffset":4.5,"yOffset":-2.5},"encoding":{}},
{"data":{"values":[{"block":46,"row":"footer"}]},"mark":{"type":"rect","color":"#FF0000","width":7,"height":15,"xOffset":-5.5,"yOffset":-2.5},"encoding":{}},
{"data":{"values":[{"block":47,"row":"footer"}]},"mark":{"type":"rect","color":"#FF0000","width":7,"height":15,"xOffset":0.5,"yOffset":-2.5},"encoding":{}},
{"data":{"values":[{"block":46,"row":"footer"}]},"mark":{"type":"point","filled":true,"color":"#FF0000","opacity":1,"size":100,"xOffset":4.5,"yOffset":-2.5,"shape":"M0,-1 L.2,-.6 L.45,-.7 L.35,-.2 L.8,-.35 L.7,-.05 L1,.1 L.5,.5 L.55,.7 L.05,.6 L.05,1 L-.05,1 L-.05,.6 L-.55,.7 L-.5,.5 L-1,.1 L-.7,-.05 L-.8,-.35 L-.35,-.2 L-.45,-.7 L-.2,-.6 Z"},"encoding":{}},
{"data":{"values":[{"block":49,"row":"footer","text":"Environment"}]},"mark":{"type":"text","align":"left","font":"Liberation Sans","fontSize":9,"color":"#000000","xOffset":-10,"yOffset":-6},"encoding":{"text":{"field":"text"}}},
{"data":{"values":[{"block":49,"row":"footer","text":"Canada"}]},"mark":{"type":"text","align":"left","font":"Liberation Sans","fontSize":9,"color":"#000000","xOffset":-10,"yOffset":1},"encoding":{"text":{"field":"text"}}},
{"data":{"values":[{"block":53,"row":"footer","text":"Environnement"}]},"mark":{"type":"text","align":"left","font":"Liberation Sans","fontSize":9,"color":"#000000","xOffset":-1,"yOffset":-6},"encoding":{"text":{"field":"text"}}},
{"data":{"values":[{"block":53,"row":"footer","text":"Canada"}]},"mark":{"type":"text","align":"left","font":"Liberation Sans","fontSize":9,"color":"#000000","xOffset":-1,"yOffset":1},"encoding":{"text":{"field":"text"}}}
]},
{"encoding":{
"x":{"field":"col","type":"nominal","axis":null,"scale":{"type":"point","domain":["edge","strip","label"],"range":[2,14],"padding":0}},
"y":{"field":"row","type":"nominal","axis":null}
},
"layer":[
{"data":{"values":[{"col":"strip","row":"cloud","end":"dark"}]},"mark":{"type":"rect","color":"#0060E0","width":12,"xOffset":-2,"yOffset":-6,"y2Offset":7},"encoding":{"y2":{"field":"end"}}},
{"data":{"values":[{"col":"strip","row":"smoke","end":"temp"}]},"mark":{"type":"rect","color":"#506C00","width":12,"xOffset":-2,"yOffset":-6,"y2Offset":7},"encoding":{"y2":{"field":"end"}}},
{"data":{"values":[{"col":"strip","row":"cloud2","end":"dark2"}]},"mark":{"type":"rect","color":"#0060E0","width":12,"xOffset":-2,"yOffset":-2,"y2Offset":11},"encoding":{"y2":{"field":"end"}}},
{"data":{"values":[{"col":"strip","row":"transp","text":"--\u00a0\u00a0Sky\u00a0\u00a0--"}]},"mark":{"type":"text","angle":270,"fontSize":10,"color":"#FFFF00","align":"center","xOffset":-2},"encoding":{"text":{"field":"text"}}},
{"data":{"values":[{"col":"strip","row":"wind","text":"- Ground -"}]},"mark":{"type":"text","angle":270,"fontSize":10,"color":"#FFFFFF","align":"center","xOffset":-2,"yOffset":9},"encoding":{"text":{"field":"text"}}},
{"data":{"values":[{"col":"strip","row":"ecmwf2","text":"- Sky -"}]},"mark":{"type":"text","angle":270,"fontSize":10,"color":"#FFFF00","align":"center","xOffset":-2,"yOffset":5},"encoding":{"text":{"field":"text"}}},
{"data":{"values":[{"col":"label","row":"cloud","text":"Cloud Cover:","kind":"white"},{"col":"label","row":"ecmwf","text":"ECMWF Cloud:","kind":"white"},{"col":"label","row":"transp","text":"Transparency:","kind":"white"},{"col":"label","row":"seeing","text":"Seeing:","kind":"white"},{"col":"label","row":"dark","text":"Darkness:","kind":"dim"},{"col":"label","row":"smoke","text":"Smoke:","kind":"white"},{"col":"label","row":"wind","text":"Wind:","kind":"white"},{"col":"label","row":"humid","text":"Humidity:","kind":"white"},{"col":"label","row":"temp","text":"Temperature:","kind":"white"}]},"mark":{"type":"text","align":"left","yOffset":-2},"encoding":{"text":{"field":"text"},"color":{"field":"kind","type":"nominal","legend":null}}},
{"data":{"values":[{"col":"label","row":"cloud2","text":"Cloud Cover:","kind":"white"},{"col":"label","row":"ecmwf2","text":"ECMWF Cloud:","kind":"white"},{"col":"label","row":"dark2","text":"Darkness:","kind":"dim"}]},"mark":{"type":"text","align":"left","yOffset":2},"encoding":{"text":{"field":"text"},"color":{"field":"kind","type":"nominal","legend":null}}},
{"data":{"values":[{"col":"edge","row":"date","text":"2026-08-13","kind":"Thu"},{"col":"edge","row":"tens","text":"Local Time","kind":"local"}]},"mark":{"type":"text","align":"left","yOffset":-0.5},"encoding":{"text":{"field":"text"},"color":{"field":"kind","type":"nominal","legend":null}}},
{"data":{"values":[{"col":"edge","row":"date2","text":"2026-08-16","kind":"Sun"},{"col":"edge","row":"tens2","text":"Local Time","kind":"local"}]},"mark":{"type":"text","align":"left","yOffset":3.5},"encoding":{"text":{"field":"text"},"color":{"field":"kind","type":"nominal","legend":null}}},
{"data":{"values":[{"col":"edge","row":"ones","text":"(GMT -4.0)"}]},"mark":{"type":"text","align":"left","fontSize":8,"fontWeight":"bold","color":"#C8C800","xOffset":2,"yOffset":-4.5},"encoding":{"text":{"field":"text"}}},
{"data":{"values":[{"col":"edge","row":"ones2","text":"(GMT -4.0)"}]},"mark":{"type":"text","align":"left","fontSize":8,"fontWeight":"bold","color":"#C8C800","xOffset":2,"yOffset":-1.5},"encoding":{"text":{"field":"text"}}},
{"data":{"values":[{"col":"edge","row":"note","text":"EXTENDED Forecast. Each block is 3 hours. (A sponsored feature)","kind":"alert"}]},"mark":{"type":"text","align":"left","xOffset":-2,"yOffset":0},"encoding":{"text":{"field":"text"},"color":{"field":"kind","type":"nominal","legend":null}}}
]}
]}
